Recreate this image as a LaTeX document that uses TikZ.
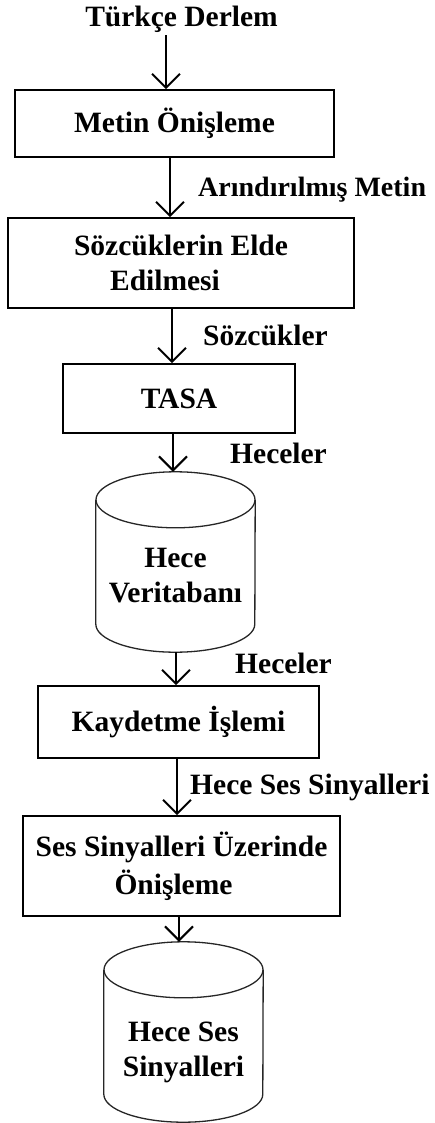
\documentclass[tikz,border=0pt]{standalone}
\usepackage{fontspec}
\setmainfont{Liberation Serif}
\usetikzlibrary{arrows.meta}
\begin{document}
\begin{tikzpicture}[x=1pt,y=1pt,
  every node/.style={font=\fontsize{29.5}{35}\selectfont\bfseries},
  procbox/.style={draw, line width=1.6pt, inner sep=0pt, align=center},
  cylbox/.style={inner sep=0pt, minimum width=159pt, minimum height=180pt},
  cyltext/.style={inner sep=0pt, align=center},
  cylline/.style={line width=1.3pt, draw=black!85},
  arr/.style={line width=2pt, -{Straight Barb[length=14pt,width=28pt,line width=2pt]}},
  lbl/.style={anchor=base west, inner sep=0pt}]
\useasboundingbox (0,0) rectangle (435,-1123);

% title
\node[anchor=base, inner sep=2pt] (t0) at (181.5,-27) {Türkçe Derlem};

% boxes
\node[procbox, minimum width=319pt, minimum height=67pt] (b1) at (174.5,-123.5) {Metin Önişleme};
\node[procbox, minimum width=346pt, minimum height=90pt] (b2) at (181,-263) {Sözcüklerin Elde\\\hspace*{-32pt}Edilmesi};
\node[procbox, minimum width=232pt, minimum height=69pt] (b3) at (179,-398.5) {TASA};
\node[cylbox] (c1) at (175.5,-562) {};
\node[cyltext] (c1t) at (175.5,-576) {Hece\\Veritabanı};
\node[procbox, minimum width=281pt, minimum height=72pt] (b5) at (178.5,-722) {Kaydetme İşlemi};
\node[procbox, minimum width=317pt, minimum height=100pt, font=\fontsize{29.5}{38}\selectfont\bfseries] (b6) at (181.5,-866) {Ses Sinyalleri Üzerinde\\\hspace*{-16pt}Önişleme};
\node[cylbox] (c2) at (183.5,-1032) {};
\node[cyltext] (c2t) at (183.5,-1052) {Hece Ses\\Sinyalleri};

% cylinders
\foreach \c in {c1,c2}{
  \draw[cylline] ([yshift=-28pt]\c.north) ellipse [x radius=79.5pt, y radius=28pt];
  \draw[cylline] ([yshift=-28pt]\c.north west) -- ([yshift=28pt]\c.south west)
     arc[start angle=180, end angle=360, x radius=79.5pt, y radius=28pt]
     -- ([yshift=-28pt]\c.north east);
}

% connectors
\draw[arr] (t0.south -| 166,0) -- (b1.north -| 166,0);
\draw[arr] (b1.south -| 170,0) -- (b2.north -| 170,0);
\draw[arr] (b2.south -| 172,0) -- (b3.north -| 172,0);
\draw[arr] (b3.south -| 173,0) -- (c1.north -| 173,0);
\draw[arr] (c1.south -| 176,0) -- (b5.north -| 176,0);
\draw[arr] (b5.south -| 177,0) -- (b6.north -| 177,0);
\draw[arr] (b6.south -| 179,0) -- (c2.north -| 179,0);

% connector labels
\node[lbl, font=\fontsize{28}{34}\selectfont\bfseries] (l2) at (198,-197) {Arındırılmış Metin};
\node[lbl] (l3) at (203,-345) {Sözcükler};
\node[lbl] (l4) at (230,-463) {Heceler};
\node[lbl] (l5) at (235,-673) {Heceler};
\node[lbl] (l6) at (190,-794) {Hece Ses Sinyalleri};
\end{tikzpicture}
\end{document}
